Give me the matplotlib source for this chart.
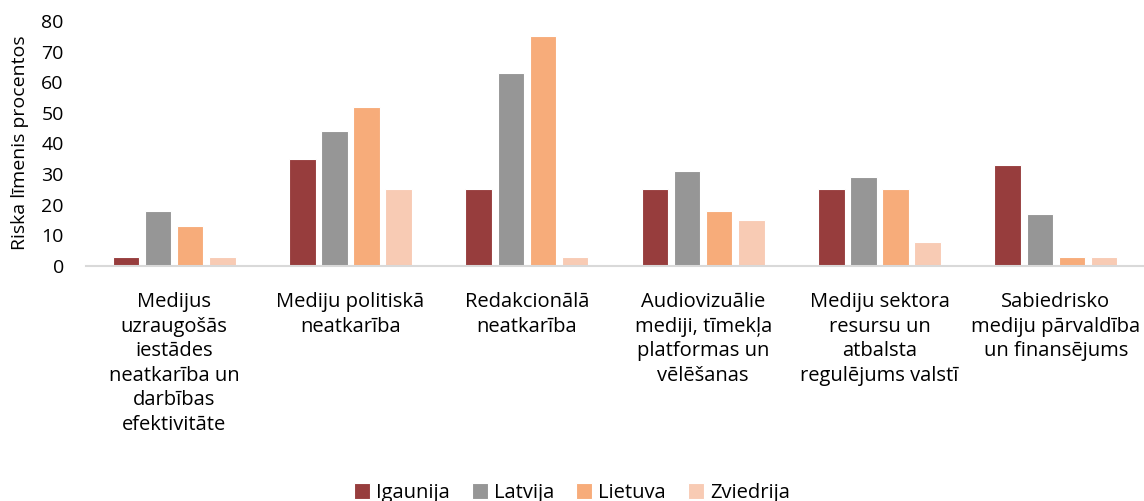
import numpy as np
import matplotlib.pyplot as plt

plt.rcParams['font.family'] = ['Open Sans', 'DejaVu Sans']

# ---------------------------------------------------------
# data
# ---------------------------------------------------------
categories = [
    "Medijus\nuzraugošās\niestādes\nneatkarība un\ndarbības\nefektivitāte",
    "Mediju politiskā\nneatkarība",
    "Redakcionālā\nneatkarība",
    "Audiovizuālie\nmediji, tīmekļa\nplatformas un\nvēlēšanas",
    "Mediju sektora\nresursu un\natbalsta\nregulējums valstī",
    "Sabiedrisko\nmediju pārvaldība\nun finansējums",
]
countries = ["Igaunija", "Latvija", "Lietuva", "Zviedrija"]
igaunija = [3, 35, 25, 25, 25, 33]
latvija = [18, 44, 63, 31, 29, 17]
lietuva = [13, 52, 75, 18, 25, 3]
zviedrija = [3, 25, 3, 15, 8, 3]
series = [igaunija, latvija, lietuva, zviedrija]
colors = ["#973D3D", "#969696", "#F7AC7A", "#F8CBB4"]

# ---------------------------------------------------------
# plot
# ---------------------------------------------------------
fig = plt.figure(figsize=(11.44, 5.01), dpi=100)
ax = fig.add_axes([86 / 1144, 1 - 266 / 501, 1058 / 1144, 245 / 501])

x = np.arange(len(categories))
slot = 0.182
width = 0.15
for i, (vals, name, col) in enumerate(zip(series, countries, colors)):
    ax.bar(x + (i - 1.5) * slot, vals, width=width, color=col,
           edgecolor="white", linewidth=0.8, label=name)

ax.set_xlim(-0.5, len(categories) - 0.5)
ax.set_ylim(0, 80)
ax.set_yticks(range(0, 81, 10))
ax.tick_params(axis="y", length=0, labelsize=14, pad=16)
ax.tick_params(axis="x", length=0, labelsize=14.5, pad=19)
ax.set_xticks(x)
ax.set_xticklabels(categories, linespacing=1.3, va="top")

for s in ["top", "right", "left"]:
    ax.spines[s].set_visible(False)
ax.spines["bottom"].set_color("#D9D9D9")
ax.spines["bottom"].set_linewidth(1.5)

# y axis title
fig.text(20 / 1144, 1 - 143 / 501, "Riska līmenis procentos", rotation=90,
         ha="center", va="center", fontsize=14)

fig.legend(loc="lower center", bbox_to_anchor=(0.5, -0.04), ncol=4,
           frameon=False, fontsize=14.5, handlelength=0.8, handleheight=0.8,
           columnspacing=1.1, handletextpad=0.3)

fig.savefig("out.png", dpi=100)
